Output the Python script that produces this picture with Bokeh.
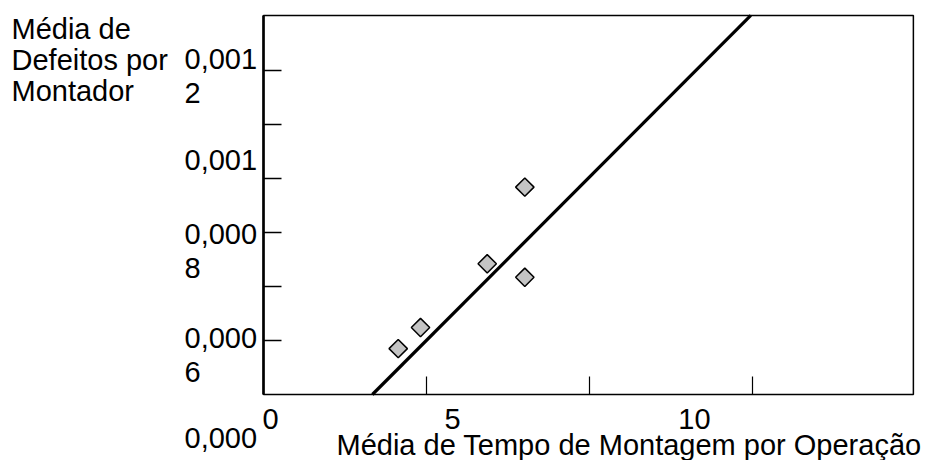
import math
from bokeh.plotting import figure
from bokeh.models import Label, Range1d
from bokeh.embed import file_html
from bokeh.resources import INLINE

# ---- data ----
tempo = [2.755, 3.211, 4.575, 5.344, 5.344]                       # Média de Tempo de Montagem por Operação
defeitos = [0.000685, 0.000724, 0.000842, 0.000984, 0.000817]     # Média de Defeitos por Montador
fit_gradient = 0.0000907
fit_intercept = 0.000398

x_lim = [0.0, 13.29]
y_lim = [0.0006, 0.0013019]
x_ticks = [10 / 3, 20 / 3, 10]
y_ticks = [0.0007, 0.0008, 0.0009, 0.0010, 0.0011, 0.0012]
x_tick_labels = ["0", "5", "10"]
y_tick_labels = ["0,001\n2", "0,001", "0,000\n8", "0,000\n6", "0,000"]
x_title = "Média de Tempo de Montagem por Operação"
y_title = "Média de\nDefeitos por\nMontador"

# ---- layout (pixels in the picture) ----
W, H = 933, 460
BOX_L, BOX_B = 263, 394           # where x_lim[0] / y_lim[0] sit
PX_PER_X = 163 / (10 / 3)         # pixels per x unit
PX_PER_Y = 54 / 0.0001            # pixels per y unit
TICK = 18                         # inward tick length, px
FONT = "Liberation Sans"
FS = "29px"

def X(px):
    return x_lim[0] + (px - BOX_L) / PX_PER_X

def Y(py):
    return y_lim[0] + (BOX_B - py) / PX_PER_Y

p = figure(width=W, height=H, output_backend="svg", toolbar_location=None,
           x_range=Range1d(X(0), X(W)), y_range=Range1d(Y(H), Y(0)),
           min_border=0, x_axis_location=None, y_axis_location=None)
p.title.visible = False
p.grid.visible = False
p.outline_line_color = None
p.background_fill_color = "white"
p.border_fill_color = "white"

# chart box
p.quad(left=[x_lim[0]], right=[x_lim[1]], bottom=[y_lim[0]], top=[y_lim[1]],
       fill_color=None, line_color="black", line_width=1.5)
p.segment(x0=[x_lim[0]], y0=[y_lim[0]], x1=[x_lim[0]], y1=[y_lim[1]],
          line_color="black", line_width=2.6)

# inward ticks
dx = TICK / PX_PER_X
dy = TICK / PX_PER_Y
p.segment(x0=x_ticks, y0=[y_lim[0]] * len(x_ticks), x1=x_ticks,
          y1=[y_lim[0] + dy] * len(x_ticks), line_color="black", line_width=1.2)
p.segment(x0=[x_lim[0]] * len(y_ticks), y0=y_ticks, x1=[x_lim[0] + dx] * len(y_ticks),
          y1=y_ticks, line_color="black", line_width=1.5)

# regression line between the bottom and top of the box
fy = [y_lim[0], y_lim[1]]
fx = [(v - fit_intercept) / fit_gradient for v in fy]
p.line(fx, fy, line_color="black", line_width=3.2)

# points
p.scatter(tempo, defeitos, marker="square", angle=math.pi / 4, size=13,
          fill_color="#c4c4c4", line_color="black", line_width=1.5)

def add_text(txt, px, py, align="left", line_height=1.07):
    p.add_layout(Label(x=X(px), y=Y(py), text=txt, text_font=FONT,
                       text_font_size=FS, text_align=align, text_baseline="top",
                       text_line_height=line_height, text_color="black"))

# y tick labels (placed as in the picture)
y_label_tops = [42, 149, 217, 321, 427]
for txt, top in zip(y_tick_labels, y_label_tops):
    add_text(txt, 184, top)

# x tick labels
x_label_pos = [(262, "left"), (452, "center"), (694, "center")]
for txt, (px, al) in zip(x_tick_labels, x_label_pos):
    add_text(txt, px, 408, al)

# axis titles
add_text(x_title, 336, 428)
add_text(y_title, 11, 12, line_height=0.97)

open("out.html", "w").write(file_html(p, INLINE))
